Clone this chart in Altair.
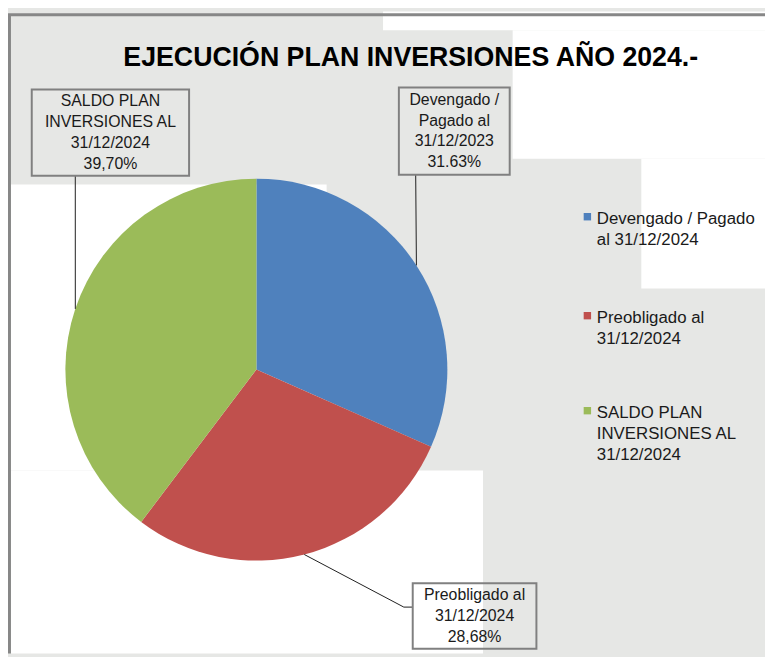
import altair as alt
import numpy as np
import pandas as pd

# ---------------- data ----------------
categories = [
    "Devengado / Pagado al 31/12/2024",
    "Preobligado al 31/12/2024",
    "SALDO PLAN INVERSIONES AL 31/12/2024",
]
values = [31.63, 28.68, 39.70]
colors = ["#4f81bd", "#c0504d", "#9bbb59"]
label_texts = [
    "Devengado /\nPagado al\n31/12/2023\n31.63%",
    "Preobligado al\n31/12/2024\n28,68%",
    "SALDO PLAN\nINVERSIONES AL\n31/12/2024\n39,70%",
]
legend_texts = [
    "Devengado / Pagado\nal 31/12/2024",
    "Preobligado al\n31/12/2024",
    "SALDO PLAN\nINVERSIONES AL\n31/12/2024",
]
title_text = "EJECUCIÓN PLAN INVERSIONES AÑO 2024.-"

# ---------------- layout ----------------
W, H = 765, 649
BG_GRAY = "#e6e7e5"
FONT = "Liberation Sans Narrow, Arial Narrow, Liberation Sans, Arial, sans-serif"
CX, CY, R = 251, 362, 193
LH = 21

white_patches = pd.DataFrame({
    "x": [379, 510, 640, 3, 3],
    "x2": [765, 765, 765, 322, 480],
    "y": [0, 19, 149, 175, 464],
    "y2": [19, 149, 280, 464, 649],
})
border = pd.DataFrame({"x": [0, 1.5], "x2": [765, 1.5], "y": [3.5, 3.5], "y2": [3.5, 649]})

# label boxes (x, x2, y, y2) per category
boxes = pd.DataFrame({
    "x": [395, 409, 24],
    "x2": [507, 534, 183],
    "y": [77, 578, 79],
    "y2": [165, 644, 166],
    "text": label_texts,
})
boxes["cx"] = (boxes["x"] + boxes["x2"]) / 2
nlines = boxes["text"].str.count("\n")
boxes["ty"] = (boxes["y"] + boxes["y2"]) / 2 - nlines * LH / 2

# leader line end points on the pie edge (mid angle of each slice)
vals = np.array(values)
cum = np.cumsum(vals)
mid = (cum - vals / 2) / vals.sum() * 2 * np.pi
px = CX + R * np.sin(mid)
py = CY - R * np.cos(mid)
leader = pd.DataFrame({
    "x": [412, px[1], 400, 68],
    "y": [165, py[1], 602, 166],
    "x2": [px[0], 400, 409, px[2]],
    "y2": [py[0], 602, 602, py[2]],
})

legend_df = pd.DataFrame({
    "text": legend_texts,
    "cat": categories,
    "y": [215, 315, 411],
})
legend_df["sy"] = legend_df["y"] - 7.5
legend_df["sx"] = 585.5
legend_df["tx"] = 595

pie_df = pd.DataFrame({"cat": categories, "value": values, "idx": [0, 1, 2]})

color_scale = alt.Scale(domain=categories, range=colors)

def px_x(f):
    return alt.X(f, type="quantitative", scale=None)

def px_y(f):
    return alt.Y(f, type="quantitative", scale=None)

bg = alt.Chart(white_patches).mark_rect(color="white").encode(
    x=px_x("x"), x2="x2", y=px_y("y"), y2="y2"
)
border_l = alt.Chart(border).mark_rule(color="#878787", strokeWidth=3).encode(
    x=px_x("x"), x2="x2", y=px_y("y"), y2="y2"
)
pie = alt.Chart(pie_df).mark_arc(outerRadius=R).encode(
    theta=alt.Theta("value:Q", stack=True),
    order=alt.Order("idx:Q"),
    color=alt.Color("cat:N", scale=color_scale, legend=None),
    x=alt.value(CX),
    y=alt.value(CY),
)
leaders = alt.Chart(leader).mark_rule(color="#1e1e1e", strokeWidth=1).encode(
    x=px_x("x"), x2="x2", y=px_y("y"), y2="y2"
)
box_rects = alt.Chart(boxes).mark_rect(fill=None, stroke="#808080", strokeWidth=2).encode(
    x=px_x("x"), x2="x2", y=px_y("y"), y2="y2"
)
box_text = alt.Chart(boxes).mark_text(
    font=FONT, fontSize=16, lineBreak="\n", lineHeight=LH, align="center",
    baseline="middle", color="#1a1a1a"
).encode(x=px_x("cx"), y=px_y("ty"), text="text:N")

title = alt.Chart(pd.DataFrame({"t": [title_text]})).mark_text(
    font=FONT, fontSize=27, fontWeight="bold", align="center", baseline="alphabetic",
    color="#000000"
).encode(x=alt.value(407), y=alt.value(55), text="t:N")

leg_sq = alt.Chart(legend_df).mark_square(size=56, opacity=1).encode(
    x=px_x("sx"), y=px_y("sy"),
    color=alt.Color("cat:N", scale=color_scale, legend=None),
)
leg_txt = alt.Chart(legend_df).mark_text(
    font=FONT, fontSize=17, lineBreak="\n", lineHeight=LH, align="left",
    baseline="alphabetic", color="#1a1a1a"
).encode(x=px_x("tx"), y=px_y("y"), text="text:N")

chart = alt.layer(
    bg, border_l, pie, leaders, box_rects, box_text, title, leg_sq, leg_txt
).properties(
    width=W, height=H, background=BG_GRAY, padding=0, autosize="none"
).configure_view(stroke=None)

chart.save("out.html", embed_options={"renderer": "svg", "actions": False})
